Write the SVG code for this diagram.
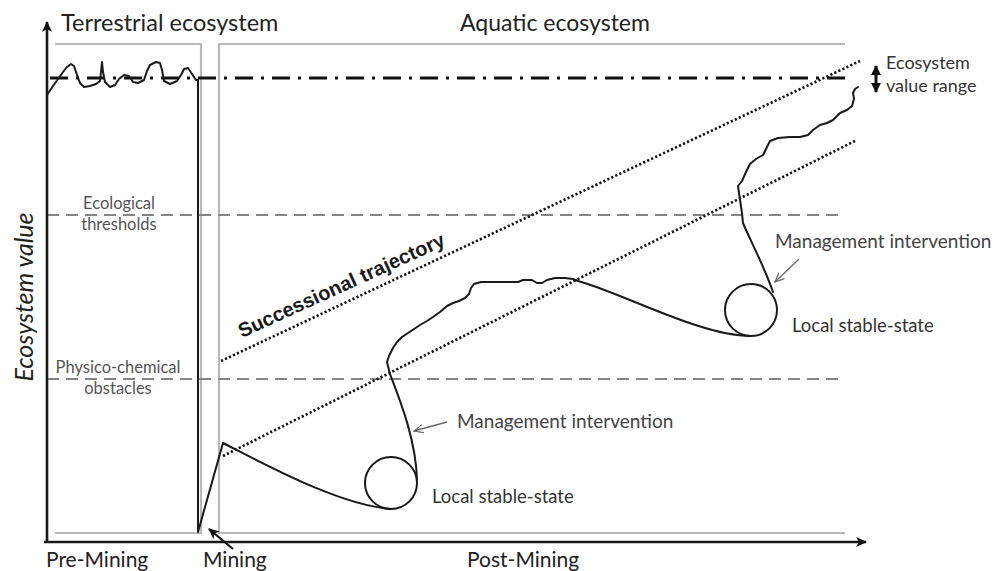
<svg xmlns="http://www.w3.org/2000/svg" width="1003" height="571" viewBox="0 0 1003 571">
<style>
.t{font-family:Lato,"Liberation Sans",sans-serif;}
.tb{font-family:"Liberation Sans",Arial,sans-serif;font-weight:bold;}
.box{fill:none;stroke:#b8b8b8;stroke-width:2.2;}
.thr{fill:none;stroke:#858585;stroke-width:2.2;stroke-dasharray:12 7;}
.dot{fill:none;stroke:#111;stroke-width:2.6;stroke-dasharray:2.2 2.2;}
.curve{fill:none;stroke:#1a1a1a;stroke-width:2;stroke-linejoin:round;stroke-linecap:round;}
.axis{fill:none;stroke:#1a1a1a;stroke-width:2.6;}
.lbl{fill:#555;}
</style>
<defs>
<marker id="ah" viewBox="0 0 12 12" refX="10" refY="6" markerWidth="12" markerHeight="12" markerUnits="userSpaceOnUse" orient="auto-start-reverse">
<path d="M0,1 L11,6 L0,11 L3,6 z" fill="#111"/>
</marker>
<marker id="ahb" viewBox="0 0 12 12" refX="10" refY="6" markerWidth="11" markerHeight="11" markerUnits="userSpaceOnUse" orient="auto-start-reverse">
<path d="M0,0.5 L11,6 L0,11.5 z" fill="#111"/>
</marker>
<marker id="ahg" viewBox="0 0 12 12" refX="11" refY="6" markerWidth="11" markerHeight="11" markerUnits="userSpaceOnUse" orient="auto">
<path d="M1,1.5 L11,6 L1,10.5" fill="none" stroke="#666" stroke-width="1.3"/>
</marker>
</defs>
<rect width="1003" height="571" fill="#fff"/>

<g id="boxes">
<path class="box" d="M55,44 L201,44 L201,533 L55,533"/>
<path class="box" d="M845,44 L219,44 L219,533 L845,533"/>
</g>

<g id="thresholds">
<path class="thr" d="M47,215 L845,215"/>
<path class="thr" d="M47,379 L842,379"/>
<path fill="none" stroke="#111" stroke-width="2.8" stroke-dasharray="18 8 3 8" d="M50,78 L847,78"/>
</g>

<g id="successional-trajectory">
<path class="dot" d="M221,361 L860,61"/>
<path class="dot" d="M223,456 L857,140"/>
<text class="tb" transform="translate(242,338) rotate(-24.5)" font-size="20" fill="#1a1a1a">Successional trajectory</text>
</g>

<g id="ecosystem-trajectory">
<path class="curve" d="M47,95 L53,86 L58,79 L63,72 L67,67 L71,64 L74,66 L77,75 L80,83 L84,87 L90,86 L96,84 L100,81 L101,72 L102,62 L103,72 L105,82 L110,87 L115,85 L119,79 L124,75 L129,76 L133,82 L138,83 L144,80 L147,71 L150,65 L156,62 L160,63 L162,70 L164,81 L170,84 L177,81 L181,75 L184,69 L188,68 L192,74 L196,80 L198,80 L198,532 L223,443 C270,467 340,505 391,509"/>
<circle id="stable-state-1" class="curve" cx="391" cy="483" r="26" stroke-width="2.6"/>
<path class="curve" d="M417,480 C416,440 400,400 390,374 L387,362 L389,356 L393,348 L397,342 L402,337 L408,333 L414,329 L420,325 L427,321 L433,317 L440,312 L447,306 L453,303 L459,301 L465,298 L469,294 L471,288 L474,284 L481,282 L495,282 L507,282 L518,282 L523,280 L532,280 L537,283 L542,283 L547,280 L555,278 L565,278 L573,279 L578,281 C620,292 700,336 751,336"/>
<circle id="stable-state-2" class="curve" cx="751" cy="310" r="26" stroke-width="2.6"/>
<path class="curve" d="M773,292 C765,268 750,240 743,223 L742,213 L740,200 L738,186 L742,181 L746,172 L750,164 L756,159 L763,155 L767,147 L770,141 L778,138 L790,137 L800,137 L808,135 L813,130 L820,125 L827,123 L833,120 L840,113 L847,110 L852,106 L854,99 L853,93 L855,89 L858,87"/>
</g>

<g id="axes">
<path class="axis" d="M47,543 L47,22" marker-end="url(#ah)"/>
<path class="axis" d="M44,542 L866,542" marker-end="url(#ah)"/>
</g>

<g id="connectors">
<path fill="none" stroke="#111" stroke-width="2.2" d="M233,549 L209,529" marker-end="url(#ah)"/>
<path fill="none" stroke="#111" stroke-width="3" d="M876,66 L876,92" marker-start="url(#ahb)" marker-end="url(#ahb)"/>
<path fill="none" stroke="#666" stroke-width="1.3" d="M447,422 L414,431" marker-end="url(#ahg)"/>
<path fill="none" stroke="#666" stroke-width="1.3" d="M799,259 L775,282" marker-end="url(#ahg)"/>
</g>

<g id="labels">
<text class="t" x="61" y="31" font-size="23.5" fill="#222">Terrestrial ecosystem</text>
<text class="t" x="460" y="31" font-size="23" fill="#222">Aquatic ecosystem</text>
<text class="t" x="886" y="69" font-size="18" fill="#333">Ecosystem</text>
<text class="t" x="886" y="92" font-size="18" fill="#333">value range</text>
<text class="t lbl" x="119" y="209" font-size="16.5" text-anchor="middle">Ecological</text>
<text class="t lbl" x="119" y="230" font-size="16.5" text-anchor="middle">thresholds</text>
<text class="t lbl" x="118" y="373" font-size="16.5" text-anchor="middle">Physico-chemical</text>
<text class="t lbl" x="118" y="394" font-size="16.5" text-anchor="middle">obstacles</text>
<text class="t" transform="translate(33,297) rotate(-90)" font-size="25" font-style="italic" text-anchor="middle" fill="#222">Ecosystem value</text>
<text class="t" x="457" y="428" font-size="19" fill="#444">Management intervention</text>
<text class="t" x="775" y="248" font-size="19" fill="#444">Management intervention</text>
<text class="t" x="432" y="503" font-size="18.5" fill="#333">Local stable-state</text>
<text class="t" x="792" y="332" font-size="18.5" fill="#333">Local stable-state</text>
<text class="t" x="46" y="567" font-size="21" fill="#222">Pre-Mining</text>
<text class="t" x="203" y="567" font-size="21" fill="#222">Mining</text>
<text class="t" x="467" y="567" font-size="21" fill="#222">Post-Mining</text>
</g>
</svg>
